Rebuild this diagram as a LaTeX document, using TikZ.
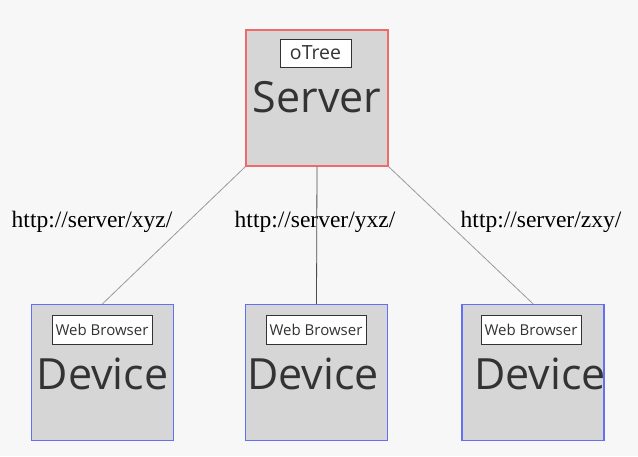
\documentclass[tikz,border=0pt]{standalone}
\usepackage{fontspec}
\setmainfont{Liberation Serif}
\newfontfamily\boxfont{Open Sans}
\usetikzlibrary{positioning}

\definecolor{boxgray}{HTML}{D6D6D6}
\definecolor{serverred}{HTML}{F06A6A}
\definecolor{deviceblue}{HTML}{6470F2}
\definecolor{textgray}{HTML}{333333}
\definecolor{linkgray}{HTML}{9A9A9A}

\tikzset{
  machine/.style={draw, line width=1.4pt, fill=boxgray, minimum width=142pt, minimum height=136pt, inner sep=0pt},
  tag/.style={draw=textgray, line width=0.9pt, fill=white, text=textgray, font=\boxfont, inner sep=2pt},
  bigname/.style={text=textgray, font=\boxfont\fontsize{43}{45}\selectfont, inner sep=0pt},
  url/.style={font=\fontsize{23.5}{26}\selectfont, inner sep=0pt},
  link/.style={draw=linkgray, line width=0.8pt}
}

\begin{document}
\begin{tikzpicture}[x=1pt, y=-1pt]
          \fill[white!97!black] (0,0) rectangle (638,456);
          \useasboundingbox (0,0) rectangle (638,456);

          \node[machine, draw=serverred] (server) at (317,98) {};
          \node[tag, font=\boxfont\fontsize{19.5}{21}\selectfont, minimum width=71pt, minimum height=28pt] (servertag) at (315.5,53) {oTree};
          \node[bigname] (servername) at (317,97) {Server};

          \node[machine, draw=deviceblue] (devA) at (102.5,372.5) {};
          \node[machine, draw=deviceblue] (devB) at (316.5,372.5) {};
          \node[machine, draw=deviceblue] (devC) at (533,372.5) {};

          \node[tag, font=\boxfont\fontsize{15}{17}\selectfont, minimum width=100pt, minimum height=29pt] (tagA) at (102,329.5) {Web Browser};
          \node[tag, font=\boxfont\fontsize{15}{17}\selectfont, minimum width=100pt, minimum height=29pt] (tagB) at (316,329.5) {Web Browser};
          \node[tag, font=\boxfont\fontsize{15}{17}\selectfont, minimum width=100pt, minimum height=29pt] (tagC) at (531,329.5) {Web Browser};

          \node[bigname] (nameA) at (102.5,374) {Device};
          \node[bigname] (nameB) at (313,374) {Device};
          \node[bigname] (nameC) at (540,374) {Device};

          \node[url] (urlA) at (92,222) {http://server/xyz/};
          \node[url] (urlB) at (315,222) {http://server/yxz/};
          \node[url] (urlC) at (541,222) {http://server/zxy/};

          \draw[link] (server.south west) -- (devA.north);
          \draw[link, draw=black!70] (server.south) -- (devB.north);
          \draw[link] (server.south east) -- (devC.north);
        \end{tikzpicture}
\end{document}
